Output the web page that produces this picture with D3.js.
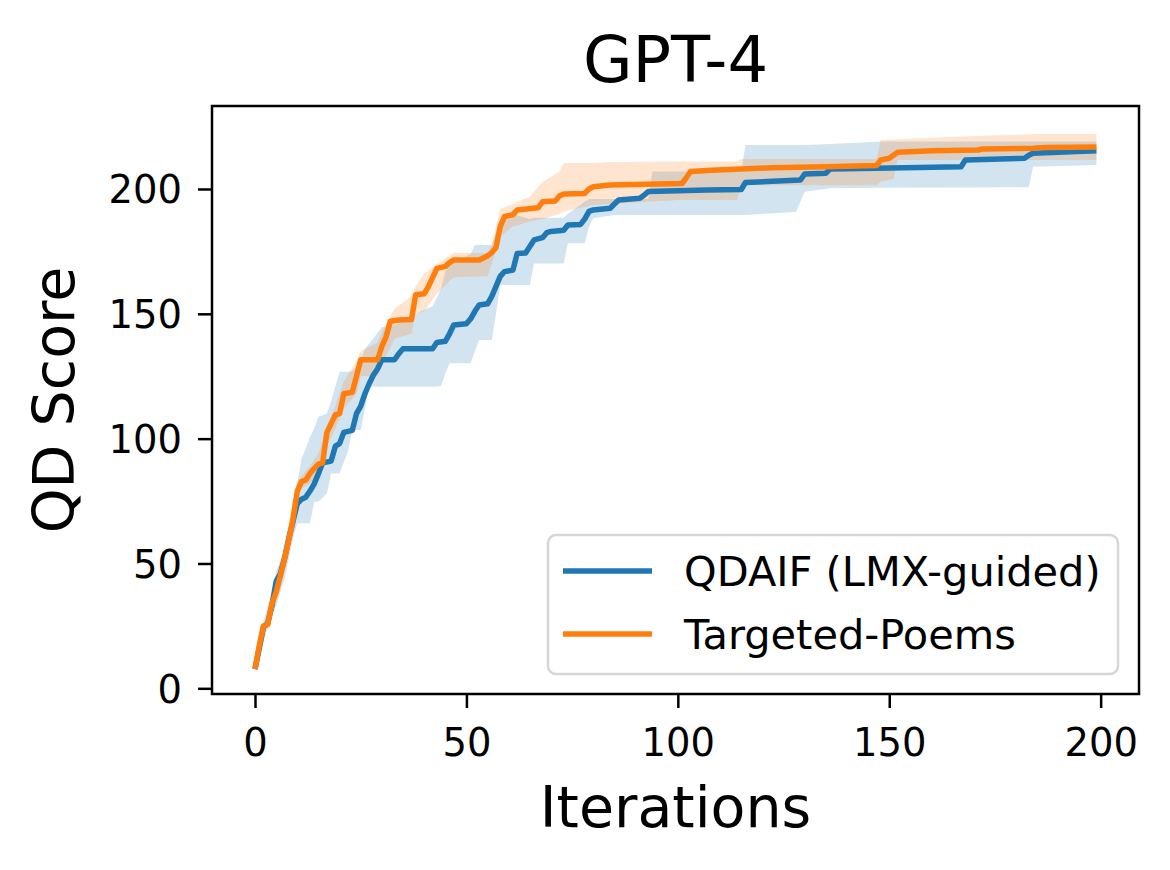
<!DOCTYPE html>
<html>
<head>
<meta charset="utf-8">
<title>GPT-4 QD Score</title>
<script src="https://cdn.jsdelivr.net/npm/d3@7"></script>
<style>
  body { margin: 0; background: #fff; }
  text { font-family: "DejaVu Sans", sans-serif; }
</style>
</head>
<body>
<script>
// --- data (breakpoints, joined by straight lines) ---
var seriesNames = ["QDAIF (LMX-guided)", "Targeted-Poems"];
var seriesColors = ["#1f77b4", "#ff7f0e"];

// QDAIF (LMX-guided) mean
var iterQ  = [0, 1, 2, 3, 4, 5, 6, 7, 8, 9, 10, 11, 12, 13, 14, 15, 16, 18, 19, 20, 21, 23, 24, 25, 26, 27, 28, 29, 30, 33, 34, 35, 42, 43, 45, 46, 47, 50, 51, 52, 53, 55, 56, 57, 58, 59, 61, 62, 64, 65, 66, 68, 69, 70, 73, 74, 77, 78, 79, 80, 84, 85, 86, 91, 92, 93, 107, 115, 116, 129, 130, 135, 136, 147, 167, 168, 182, 183, 184, 199];
var scoreQ = [7.7, 16, 24.5, 26, 33, 42.8, 46, 52, 60, 67, 74, 75.7, 76.5, 79, 81.9, 86, 90.3, 91, 97, 98, 102.5, 103.3, 110, 113, 118, 122, 125.5, 128, 131.6, 131.6, 134, 136, 136, 138.5, 139, 142, 145.5, 146, 148, 151, 153.5, 154, 157, 161, 165, 166.9, 167.5, 174.2, 174.4, 177, 179.6, 180.5, 182.5, 183, 183.5, 185.6, 185.8, 188, 191, 191.6, 192.3, 194, 195.6, 196.3, 197.5, 199, 199.6, 199.8, 202.6, 203.6, 206, 206.3, 208, 208.3, 208.9, 211.6, 212.3, 213.5, 214.3, 215.3];
// QDAIF band
var bandIterQ = [0, 2, 4, 5, 7, 9, 10, 11, 12, 13, 14, 15, 17, 18, 20, 22, 23, 25, 26, 27, 30, 34, 38, 42, 44, 45, 46, 51, 52, 53, 56, 57, 58, 60, 65, 66, 73, 74, 78, 79, 80, 85, 93, 94, 115, 116, 128, 129, 130, 136, 148, 183, 184, 199];
var loQ = [7, 22, 30, 33, 44, 60, 66, 66.1, 66.1, 66.1, 74.7, 74.7, 78, 86, 86, 95, 103.5, 103.5, 112, 120.8, 120.8, 120.8, 120.8, 120.8, 121, 126, 130.2, 130.2, 135, 139.5, 139.5, 150, 161.5, 161.5, 161.5, 170.2, 170.2, 178.3, 178.3, 185, 188.3, 189.6, 189.6, 189.6, 189.6, 189.6, 190.9, 195, 198.9, 200.3, 200.5, 200.7, 208.9, 209.6];
var hiQ = [8.5, 27, 39, 47, 56, 72, 82, 92, 96, 100.8, 104, 108.8, 110, 115, 126.8, 126.8, 127, 131, 136, 138, 144.6, 146, 150, 153, 160, 167, 170, 174, 177.6, 177.6, 177.6, 182, 186.9, 190.5, 188, 188.5, 188.5, 190, 195, 196, 196, 196, 196, 207, 207, 217.6, 217.6, 217.6, 217.6, 218, 219, 219, 219, 219];

// Targeted-Poems mean
var iterT  = [0, 1, 2, 3, 4, 5, 6, 7, 8, 9, 10, 11, 12, 13, 14, 15, 16, 17, 18, 19, 20, 21, 23, 24, 25, 29, 30, 31, 32, 34, 37, 38, 40, 41, 42, 43, 45, 46, 47, 53, 55, 56, 57, 58, 59, 61, 62, 67, 68, 71, 72, 73, 78, 79, 80, 84, 101, 102, 103, 108, 122, 135, 147, 148, 150, 151, 152, 160, 171, 172, 184, 187, 199];
var scoreT = [7.7, 17, 25, 25.5, 34, 38.5, 45, 52, 59.4, 68, 79, 82.8, 83.4, 86, 88.1, 89.8, 90.3, 102.5, 106, 109.5, 110, 118, 118.6, 125, 131.6, 131.6, 137, 140.8, 147, 147.5, 147.7, 157.6, 158, 160.9, 164.5, 168.2, 169, 170.5, 171.6, 171.6, 173.2, 174.5, 176.6, 185, 189, 189.7, 191.6, 192.5, 194.9, 195.2, 197.2, 198, 198.2, 200, 200.9, 201.6, 202.2, 204.5, 207, 207.5, 208.5, 208.9, 209.4, 211.6, 212.3, 213.5, 214.7, 215.3, 215.6, 216, 216.3, 216.6, 216.8];
// Targeted-Poems band
var bandIterT = [0, 5, 10, 11, 13, 15, 17, 19, 21, 24, 25, 29, 31, 33, 37, 38, 40, 43, 47, 55, 56, 58, 61, 65, 68, 72, 73, 80, 84, 100, 114, 115, 147, 148, 151, 152, 170, 185, 199];
var loT = [7, 35, 75, 80, 82, 85, 97, 104, 112, 118, 125, 125, 133, 140, 142, 150, 151, 158, 164.6, 165, 170, 181, 185, 187, 188, 190, 191, 193.6, 194, 195.6, 195.6, 201.5, 201.5, 203, 204, 211.6, 211.6, 211.6, 211.6];
var hiT = [8.5, 42, 83, 85, 89, 94, 105, 113, 123, 131, 135, 138.5, 146, 152, 157, 161, 166, 170, 174.4, 174.4, 178, 192, 194, 197, 202.8, 207, 210.4, 210.4, 210.8, 211, 211, 212, 212, 219.6, 219.9, 219.9, 221.2, 222, 222];

var xTicks = [0, 50, 100, 150, 200];
var yTicks = [0, 50, 100, 150, 200];

// --- layout ---
var W = 1170, H = 870;
var L = 212, R = 1139, T = 106, B = 694;

var svg = d3.select("body").append("svg")
	.attr("width", W)
	.attr("height", H);

var x = d3.scaleLinear().domain([-10.17, 209.07]).range([L, R]);
var y = d3.scaleLinear().domain([-2.28, 233.24]).range([B, T]);

svg.append("defs").append("clipPath").attr("id", "plotclip")
	.append("rect").attr("x", L).attr("y", T).attr("width", R - L).attr("height", B - T);

var plot = svg.append("g").attr("clip-path", "url(#plotclip)");

function zip3(a, b, c){
	return a.map(function(v, i){ return [v, b[i], c[i]]; });
}
function zip2(a, b){
	return a.map(function(v, i){ return [v, b[i]]; });
}

var area = d3.area()
	.x(function(d){ return x(d[0]); })
	.y0(function(d){ return y(d[1]); })
	.y1(function(d){ return y(d[2]); });

var line = d3.line()
	.x(function(d){ return x(d[0]); })
	.y(function(d){ return y(d[1]); });

var bands = [zip3(bandIterQ, loQ, hiQ), zip3(bandIterT, loT, hiT)];
var means = [zip2(iterQ, scoreQ), zip2(iterT, scoreT)];

// bands first, then lines on top
bands.forEach(function(b, i){
	plot.append("path")
		.attr("d", area(b))
		.attr("fill", seriesColors[i])
		.attr("fill-opacity", 0.2)
		.attr("stroke", "none");
});
means.forEach(function(m, i){
	plot.append("path")
		.attr("d", line(m))
		.attr("fill", "none")
		.attr("stroke", seriesColors[i])
		.attr("stroke-width", 5.5)
		.attr("stroke-linejoin", "round");
});

// axes
var xAxis = d3.axisBottom(x).tickValues(xTicks).tickSize(14).tickPadding(8);
var yAxis = d3.axisLeft(y).tickValues(yTicks).tickSize(14).tickPadding(8);

var gx = svg.append("g").attr("transform", "translate(0," + B + ")").call(xAxis);
var gy = svg.append("g").attr("transform", "translate(" + L + ",0)").call(yAxis);

[gx, gy].forEach(function(g){
	g.select(".domain").remove();
	g.selectAll(".tick line").attr("stroke", "#000").attr("stroke-width", 2.5);
	g.selectAll(".tick text")
		.attr("fill", "#000")
		.style("font-family", "DejaVu Sans")
		.style("font-size", "38.5px");
});
gx.selectAll(".tick text").attr("dy", null).attr("y", 62);
gy.selectAll(".tick text").attr("dy", "0.36em").attr("x", -30);

// frame
svg.append("rect")
	.attr("x", L).attr("y", T)
	.attr("width", R - L).attr("height", B - T)
	.attr("fill", "none")
	.attr("stroke", "#000")
	.attr("stroke-width", 2.5);

// title and axis labels
svg.append("text")
	.attr("x", (L + R) / 2).attr("y", 82)
	.attr("text-anchor", "middle")
	.style("font-size", "64px")
	.text("GPT-4");

svg.append("text")
	.attr("x", (L + R) / 2).attr("y", 827)
	.attr("text-anchor", "middle")
	.style("font-size", "57px")
	.text("Iterations");

svg.append("text")
	.attr("transform", "translate(74," + (T + B) / 2 + ") rotate(-90)")
	.attr("text-anchor", "middle")
	.style("font-size", "57px")
	.text("QD Score");

// legend
var leg = svg.append("g");
leg.append("rect")
	.attr("x", 548).attr("y", 535)
	.attr("width", 570).attr("height", 139)
	.attr("rx", 8).attr("ry", 8)
	.attr("fill", "#fff")
	.attr("fill-opacity", 0.8)
	.attr("stroke", "#d6d6d6")
	.attr("stroke-width", 2.5);

seriesNames.forEach(function(name, i){
	var ly = 571 + i * 63;
	leg.append("line")
		.attr("x1", 563).attr("x2", 652)
		.attr("y1", ly).attr("y2", ly)
		.attr("stroke", seriesColors[i])
		.attr("stroke-width", 5.5);
	leg.append("text")
		.attr("x", 684).attr("y", ly + 15)
		.style("font-size", "41.5px")
		.text(name);
});
</script>
</body>
</html>
